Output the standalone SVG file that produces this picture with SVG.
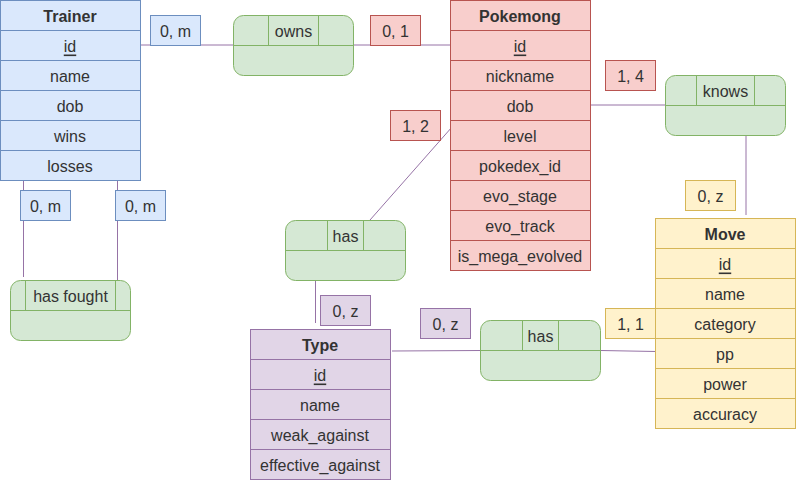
<svg xmlns="http://www.w3.org/2000/svg" width="796" height="480" viewBox="0 0 796 480">
<style>
text{font-family:"Liberation Sans",Arial,sans-serif;font-size:16px;fill:#333333;text-anchor:middle;dominant-baseline:central}
.h{font-weight:bold}
.u{text-decoration:underline}
.tr rect,.tr line{fill:#dae8fc;stroke:#6c8ebf}
.pk rect,.pk line{fill:#f8cecc;stroke:#b85450}
.mv rect,.mv line{fill:#fff2cc;stroke:#d6b656}
.ty rect,.ty line{fill:#e1d5e7;stroke:#9673a6}
.rel rect,.rel line{fill:#d5e8d4;stroke:#82b366}
.conn line{stroke:#9673a6;stroke-width:1;fill:none}
</style>
<g class="conn" id="connectors">
<line x1="140" y1="45" x2="450" y2="45"/>
<line x1="590" y1="105" x2="666" y2="105"/>
<line x1="746" y1="135" x2="746" y2="215"/>
<line x1="23.5" y1="180" x2="23.5" y2="277"/>
<line x1="117.5" y1="180" x2="117.5" y2="280"/>
<line x1="452" y1="127" x2="370" y2="220"/>
<line x1="315.5" y1="280" x2="315.5" y2="323"/>
<line x1="392" y1="351" x2="481" y2="350.5"/>
<line x1="601" y1="350.5" x2="656" y2="351.5"/>
</g>
<g id="trainer" class="tr">
<rect x="0.5" y="0.5" width="140" height="180"/>
<line x1="0.5" y1="30.5" x2="140.5" y2="30.5"/>
<line x1="0.5" y1="60.5" x2="140.5" y2="60.5"/>
<line x1="0.5" y1="90.5" x2="140.5" y2="90.5"/>
<line x1="0.5" y1="120.5" x2="140.5" y2="120.5"/>
<line x1="0.5" y1="150.5" x2="140.5" y2="150.5"/>
<text x="70" y="16" class="h">Trainer</text>
<text x="70" y="46" class="u">id</text>
<text x="70" y="76">name</text>
<text x="70" y="106">dob</text>
<text x="70" y="136">wins</text>
<text x="70" y="166">losses</text>
</g>
<g id="pokemong" class="pk">
<rect x="450.5" y="0.5" width="140" height="270"/>
<line x1="450.5" y1="30.5" x2="590.5" y2="30.5"/>
<line x1="450.5" y1="60.5" x2="590.5" y2="60.5"/>
<line x1="450.5" y1="90.5" x2="590.5" y2="90.5"/>
<line x1="450.5" y1="120.5" x2="590.5" y2="120.5"/>
<line x1="450.5" y1="150.5" x2="590.5" y2="150.5"/>
<line x1="450.5" y1="180.5" x2="590.5" y2="180.5"/>
<line x1="450.5" y1="210.5" x2="590.5" y2="210.5"/>
<line x1="450.5" y1="240.5" x2="590.5" y2="240.5"/>
<text x="520" y="16" class="h">Pokemong</text>
<text x="520" y="46" class="u">id</text>
<text x="520" y="76">nickname</text>
<text x="520" y="106">dob</text>
<text x="520" y="136">level</text>
<text x="520" y="166">pokedex_id</text>
<text x="520" y="196">evo_stage</text>
<text x="520" y="226">evo_track</text>
<text x="520" y="256">is_mega_evolved</text>
</g>
<g id="move" class="mv">
<rect x="655.5" y="218.5" width="140" height="210"/>
<line x1="655.5" y1="248.5" x2="795.5" y2="248.5"/>
<line x1="655.5" y1="278.5" x2="795.5" y2="278.5"/>
<line x1="655.5" y1="308.5" x2="795.5" y2="308.5"/>
<line x1="655.5" y1="338.5" x2="795.5" y2="338.5"/>
<line x1="655.5" y1="368.5" x2="795.5" y2="368.5"/>
<line x1="655.5" y1="398.5" x2="795.5" y2="398.5"/>
<text x="725" y="234" class="h">Move</text>
<text x="725" y="264" class="u">id</text>
<text x="725" y="294">name</text>
<text x="725" y="324">category</text>
<text x="725" y="354">pp</text>
<text x="725" y="384">power</text>
<text x="725" y="414">accuracy</text>
</g>
<g id="type" class="ty">
<rect x="250.5" y="329.5" width="140" height="150"/>
<line x1="250.5" y1="359.5" x2="390.5" y2="359.5"/>
<line x1="250.5" y1="389.5" x2="390.5" y2="389.5"/>
<line x1="250.5" y1="419.5" x2="390.5" y2="419.5"/>
<line x1="250.5" y1="449.5" x2="390.5" y2="449.5"/>
<text x="320" y="345" class="h">Type</text>
<text x="320" y="375" class="u">id</text>
<text x="320" y="405">name</text>
<text x="320" y="435">weak_against</text>
<text x="320" y="465">effective_against</text>
</g>
<g id="rel-owns" class="rel">
<rect x="233.5" y="15.5" width="120" height="60" rx="10"/>
<line x1="233.5" y1="45.5" x2="353.5" y2="45.5"/>
<line x1="268.5" y1="15.5" x2="268.5" y2="45.5"/>
<line x1="318.5" y1="15.5" x2="318.5" y2="45.5"/>
<text x="293.5" y="31">owns</text>
</g>
<g id="rel-knows" class="rel">
<rect x="665.5" y="75.5" width="120" height="60" rx="10"/>
<line x1="665.5" y1="105.5" x2="785.5" y2="105.5"/>
<line x1="696.5" y1="75.5" x2="696.5" y2="105.5"/>
<line x1="754.5" y1="75.5" x2="754.5" y2="105.5"/>
<text x="725.5" y="91">knows</text>
</g>
<g id="rel-hasfought" class="rel">
<rect x="10.5" y="280.5" width="120" height="60" rx="10"/>
<line x1="10.5" y1="310.5" x2="130.5" y2="310.5"/>
<line x1="25.5" y1="280.5" x2="25.5" y2="310.5"/>
<line x1="115.5" y1="280.5" x2="115.5" y2="310.5"/>
<text x="70.5" y="296">has fought</text>
</g>
<g id="rel-has-type" class="rel">
<rect x="285.5" y="220.5" width="120" height="60" rx="10"/>
<line x1="285.5" y1="250.5" x2="405.5" y2="250.5"/>
<line x1="327.5" y1="220.5" x2="327.5" y2="250.5"/>
<line x1="363.5" y1="220.5" x2="363.5" y2="250.5"/>
<text x="345.5" y="236">has</text>
</g>
<g id="rel-has-move" class="rel">
<rect x="480.5" y="320.5" width="120" height="60" rx="10"/>
<line x1="480.5" y1="350.5" x2="600.5" y2="350.5"/>
<line x1="522.5" y1="320.5" x2="522.5" y2="350.5"/>
<line x1="558.5" y1="320.5" x2="558.5" y2="350.5"/>
<text x="540.5" y="336">has</text>
</g>
<g id="card-trainer-owns" class="tr"><rect x="150.5" y="15.5" width="50" height="30"/><text x="175.5" y="31">0, m</text></g>
<g id="card-pk-owns" class="pk"><rect x="370.5" y="15.5" width="50" height="30"/><text x="395.5" y="31">0, 1</text></g>
<g id="card-pk-knows" class="pk"><rect x="605.5" y="60.5" width="50" height="30"/><text x="630.5" y="76">1, 4</text></g>
<g id="card-move-knows" class="mv"><rect x="685.5" y="180.5" width="50" height="30"/><text x="710.5" y="196">0, z</text></g>
<g id="card-pk-has" class="pk"><rect x="390.5" y="110.5" width="50" height="30"/><text x="415.5" y="126">1, 2</text></g>
<g id="card-fought-1" class="tr"><rect x="20.5" y="190.5" width="50" height="30"/><text x="45.5" y="206">0, m</text></g>
<g id="card-fought-2" class="tr"><rect x="115.5" y="190.5" width="50" height="30"/><text x="140.5" y="206">0, m</text></g>
<g id="card-type-has" class="ty"><rect x="320.5" y="295.5" width="50" height="30"/><text x="345.5" y="311">0, z</text></g>
<g id="card-type-hasmove" class="ty"><rect x="420.5" y="308.5" width="50" height="30"/><text x="445.5" y="324">0, z</text></g>
<g id="card-move-has" class="mv"><rect x="605.5" y="308.5" width="50" height="30"/><text x="630.5" y="324">1, 1</text></g>
</svg>
